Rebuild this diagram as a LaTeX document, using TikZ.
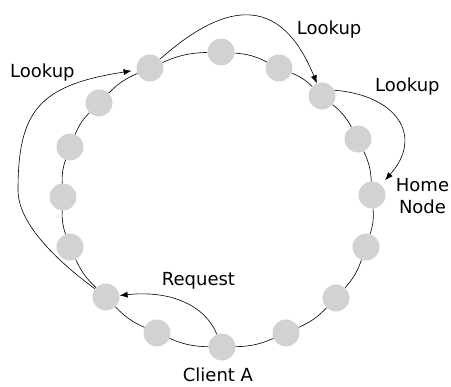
\documentclass[tikz,border=0pt]{standalone}
\usepackage{fontspec}
\setmainfont{DejaVu Sans}
\usetikzlibrary{arrows.meta}
\definecolor{ringgray}{RGB}{210,210,210}
\tikzstyle{peer}=[circle,fill=ringgray,inner sep=0pt,minimum size=27pt]
\tikzstyle{hop}=[-{Latex[length=8pt,width=6pt]},line width=0.6pt]
\tikzstyle{tag}=[inner sep=0pt,font=\fontsize{18}{22.6}\selectfont]

\begin{document}
\begin{tikzpicture}[x=1pt,y=-1pt]
  \useasboundingbox (0,0) rectangle (451,387);
  % sixteen peers round the ring, clockwise from the top
  \foreach \i/\x/\y in {0/221/52, 1/279/68, 2/322/96, 3/358/139,
                        4/372/195, 5/366/247, 6/336/298, 7/286/333,
                        8/222/347, 9/157/333, 10/106/297, 11/70/247,
                        12/63/197, 13/70/147, 14/99/103, 15/150/68}
    \node (n\i) at (\x,\y) [peer]{};
  \foreach \i [evaluate=\i as \j using {int(mod(\i+1,16))}] in {0,...,15}
    \draw[line width=0.6pt] (n\i) to[bend left=11] (n\j);

  % request from the client, then lookups round to the home node
  \draw[hop] (n8) .. controls (205,305) and (170,290) .. (n10);
  \draw[hop,shorten >=5pt] (n10) .. controls (60,263) and (18,225) .. (18,190)
                          .. controls (18,110) and (40,85) .. (n15);
  \draw[hop] (n15) .. controls (210,15) and (275,-20) .. (n2);
  \draw[hop,shorten >=6pt] (n2.25) .. controls (395,95) and (425,135) .. (n4);

  \node (lkleft)  at (10,77.7)   [tag,anchor=base west]{Lookup};
  \node (lktop)   at (296.7,34.3) [tag,anchor=base west]{Lookup};
  \node (lkright) at (375,91.7)  [tag,anchor=base west]{Lookup};
  \node (home)    at (422.5,178) [tag,anchor=north,align=center]{Home\\Node};
  \node (req)     at (161.7,286) [tag,anchor=base west]{Request};
  \node (client)  at (182.7,381.5) [tag,anchor=base west]{Client A};
\end{tikzpicture}
\end{document}
